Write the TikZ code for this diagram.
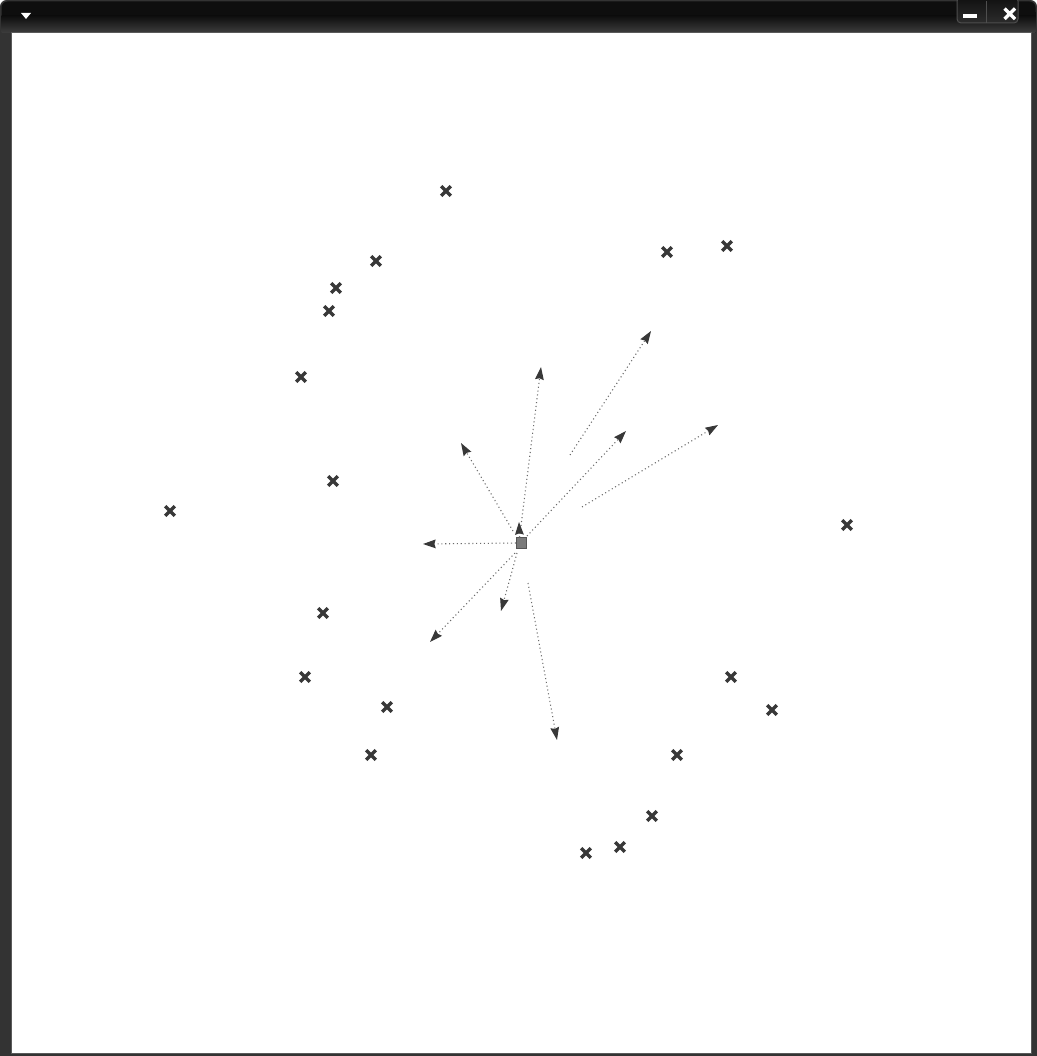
\documentclass[tikz,border=0pt]{standalone}
\usetikzlibrary{arrows.meta,shapes.misc}
\definecolor{winframe}{HTML}{333333}
\definecolor{titledark}{HTML}{0E0E0E}
\definecolor{titlelow}{HTML}{3E3E3E}
\definecolor{edgeline}{HTML}{5A5A5A}
\definecolor{btnline}{HTML}{4E4E4E}
\definecolor{btntop}{HTML}{101010}
\definecolor{btnlow}{HTML}{2C2C2C}
\definecolor{markc}{HTML}{383838}
\definecolor{dotc}{HTML}{6A6A6A}
\definecolor{tipc}{HTML}{383838}
\definecolor{sqfill}{HTML}{7A7A7A}
\definecolor{sqdraw}{HTML}{555555}
\begin{document}
\begin{tikzpicture}[x=0.75pt,y=-0.75pt,
  xmark/.style={shape=cross out, draw=markc, line width=2.6pt, minimum size=4.6pt, inner sep=0pt},
  vec/.style={draw=dotc, line width=0.8pt, dash pattern=on 0.8pt off 2.1pt,
              -{Stealth[length=9.5pt,width=6.5pt,inset=1pt,color=tipc]}},
  centre/.style={rectangle, fill=sqfill, draw=sqdraw, line width=0.6pt, minimum size=7.8pt, inner sep=0pt}]
\useasboundingbox (0,0) rectangle (1037,1056);
\fill[white] (0,0) rectangle (1037,1056);
% window frame
\fill[winframe, rounded corners=5pt] (0,0) rectangle (1037,80);
\fill[winframe] (0,40) rectangle (1037,1056);
% title bar
\fill[titledark, rounded corners=4.5pt] (1.5,1.5) rectangle (1035.5,33);
\fill[titledark] (1.5,12) rectangle (1035.5,33);
\shade[top color=titledark, bottom color=titlelow] (1.5,16) rectangle (1035.5,33);
% content area
\fill[white] (11,33) rectangle (1031,1053);
\draw[edgeline, line width=0.75pt] (11,33) rectangle (1031,1053);
% menu triangle
\fill[white] (21,13) -- (31,13) -- (26,19) -- cycle;
% buttons
\shadedraw[draw=btnline, line width=0.75pt, top color=btntop, bottom color=btnlow, rounded corners=3pt] (957,-3) rectangle (1018,23);
\draw[btnline, line width=0.75pt] (986,1) -- (986,23);
\fill[white] (963,14) rectangle (977,18.5);
\draw[white, line width=2.5pt] (1004.5,8.5) -- (1015,19) (1004.5,19) -- (1015,8.5);

% centre square
\node[centre] (ctr) at (521.5,543) {};

% crosses
\node[xmark] (m1)  at (446,191) {};
\node[xmark] (m2)  at (376,261) {};
\node[xmark] (m3)  at (336,288) {};
\node[xmark] (m4)  at (329,311) {};
\node[xmark] (m5)  at (301,377) {};
\node[xmark] (m6)  at (333,481) {};
\node[xmark] (m7)  at (170,511) {};
\node[xmark] (m8)  at (323,613) {};
\node[xmark] (m9)  at (305,677) {};
\node[xmark] (m10) at (387,707) {};
\node[xmark] (m11) at (371,755) {};
\node[xmark] (m12) at (667,252) {};
\node[xmark] (m13) at (727,246) {};
\node[xmark] (m14) at (847,525) {};
\node[xmark] (m15) at (731,677) {};
\node[xmark] (m16) at (772,710) {};
\node[xmark] (m17) at (677,755) {};
\node[xmark] (m18) at (652,816) {};
\node[xmark] (m19) at (620,847) {};
\node[xmark] (m20) at (586,853) {};

% arrow end points
\coordinate (e1) at (423,544);
\coordinate (e2) at (461,443);
\coordinate (e3) at (541,367);
\coordinate (e4) at (519,522);
\coordinate (e5) at (626,431);
\coordinate (e6) at (651,331);
\coordinate (e7) at (718,425);
\coordinate (e8) at (501,611);
\coordinate (e9) at (430,642);
\coordinate (e10) at (557,740);
% arrow start points
\coordinate (s2) at (513,531);
\coordinate (s5) at (527,536);
\coordinate (s6) at (570,455);
\coordinate (s7) at (582,507);
\coordinate (s8) at (517,553);
\coordinate (s9) at (515,553);
\coordinate (s10) at (528,583);

\draw[vec] (ctr.west) -- (e1);
\draw[vec] (s2) -- (e2);
\draw[vec] (ctr.north) ++(-2,0) coordinate (s3) -- (e3);
\draw[vec] (ctr.north) ++(-2,0) coordinate (s4) -- (e4);
\draw[vec] (s5) -- (e5);
\draw[vec] (s6) -- (e6);
\draw[vec] (s7) -- (e7);
\draw[vec] (s8) -- (e8);
\draw[vec] (s9) -- (e9);
\draw[vec] (s10) -- (e10);
\end{tikzpicture}
\end{document}
